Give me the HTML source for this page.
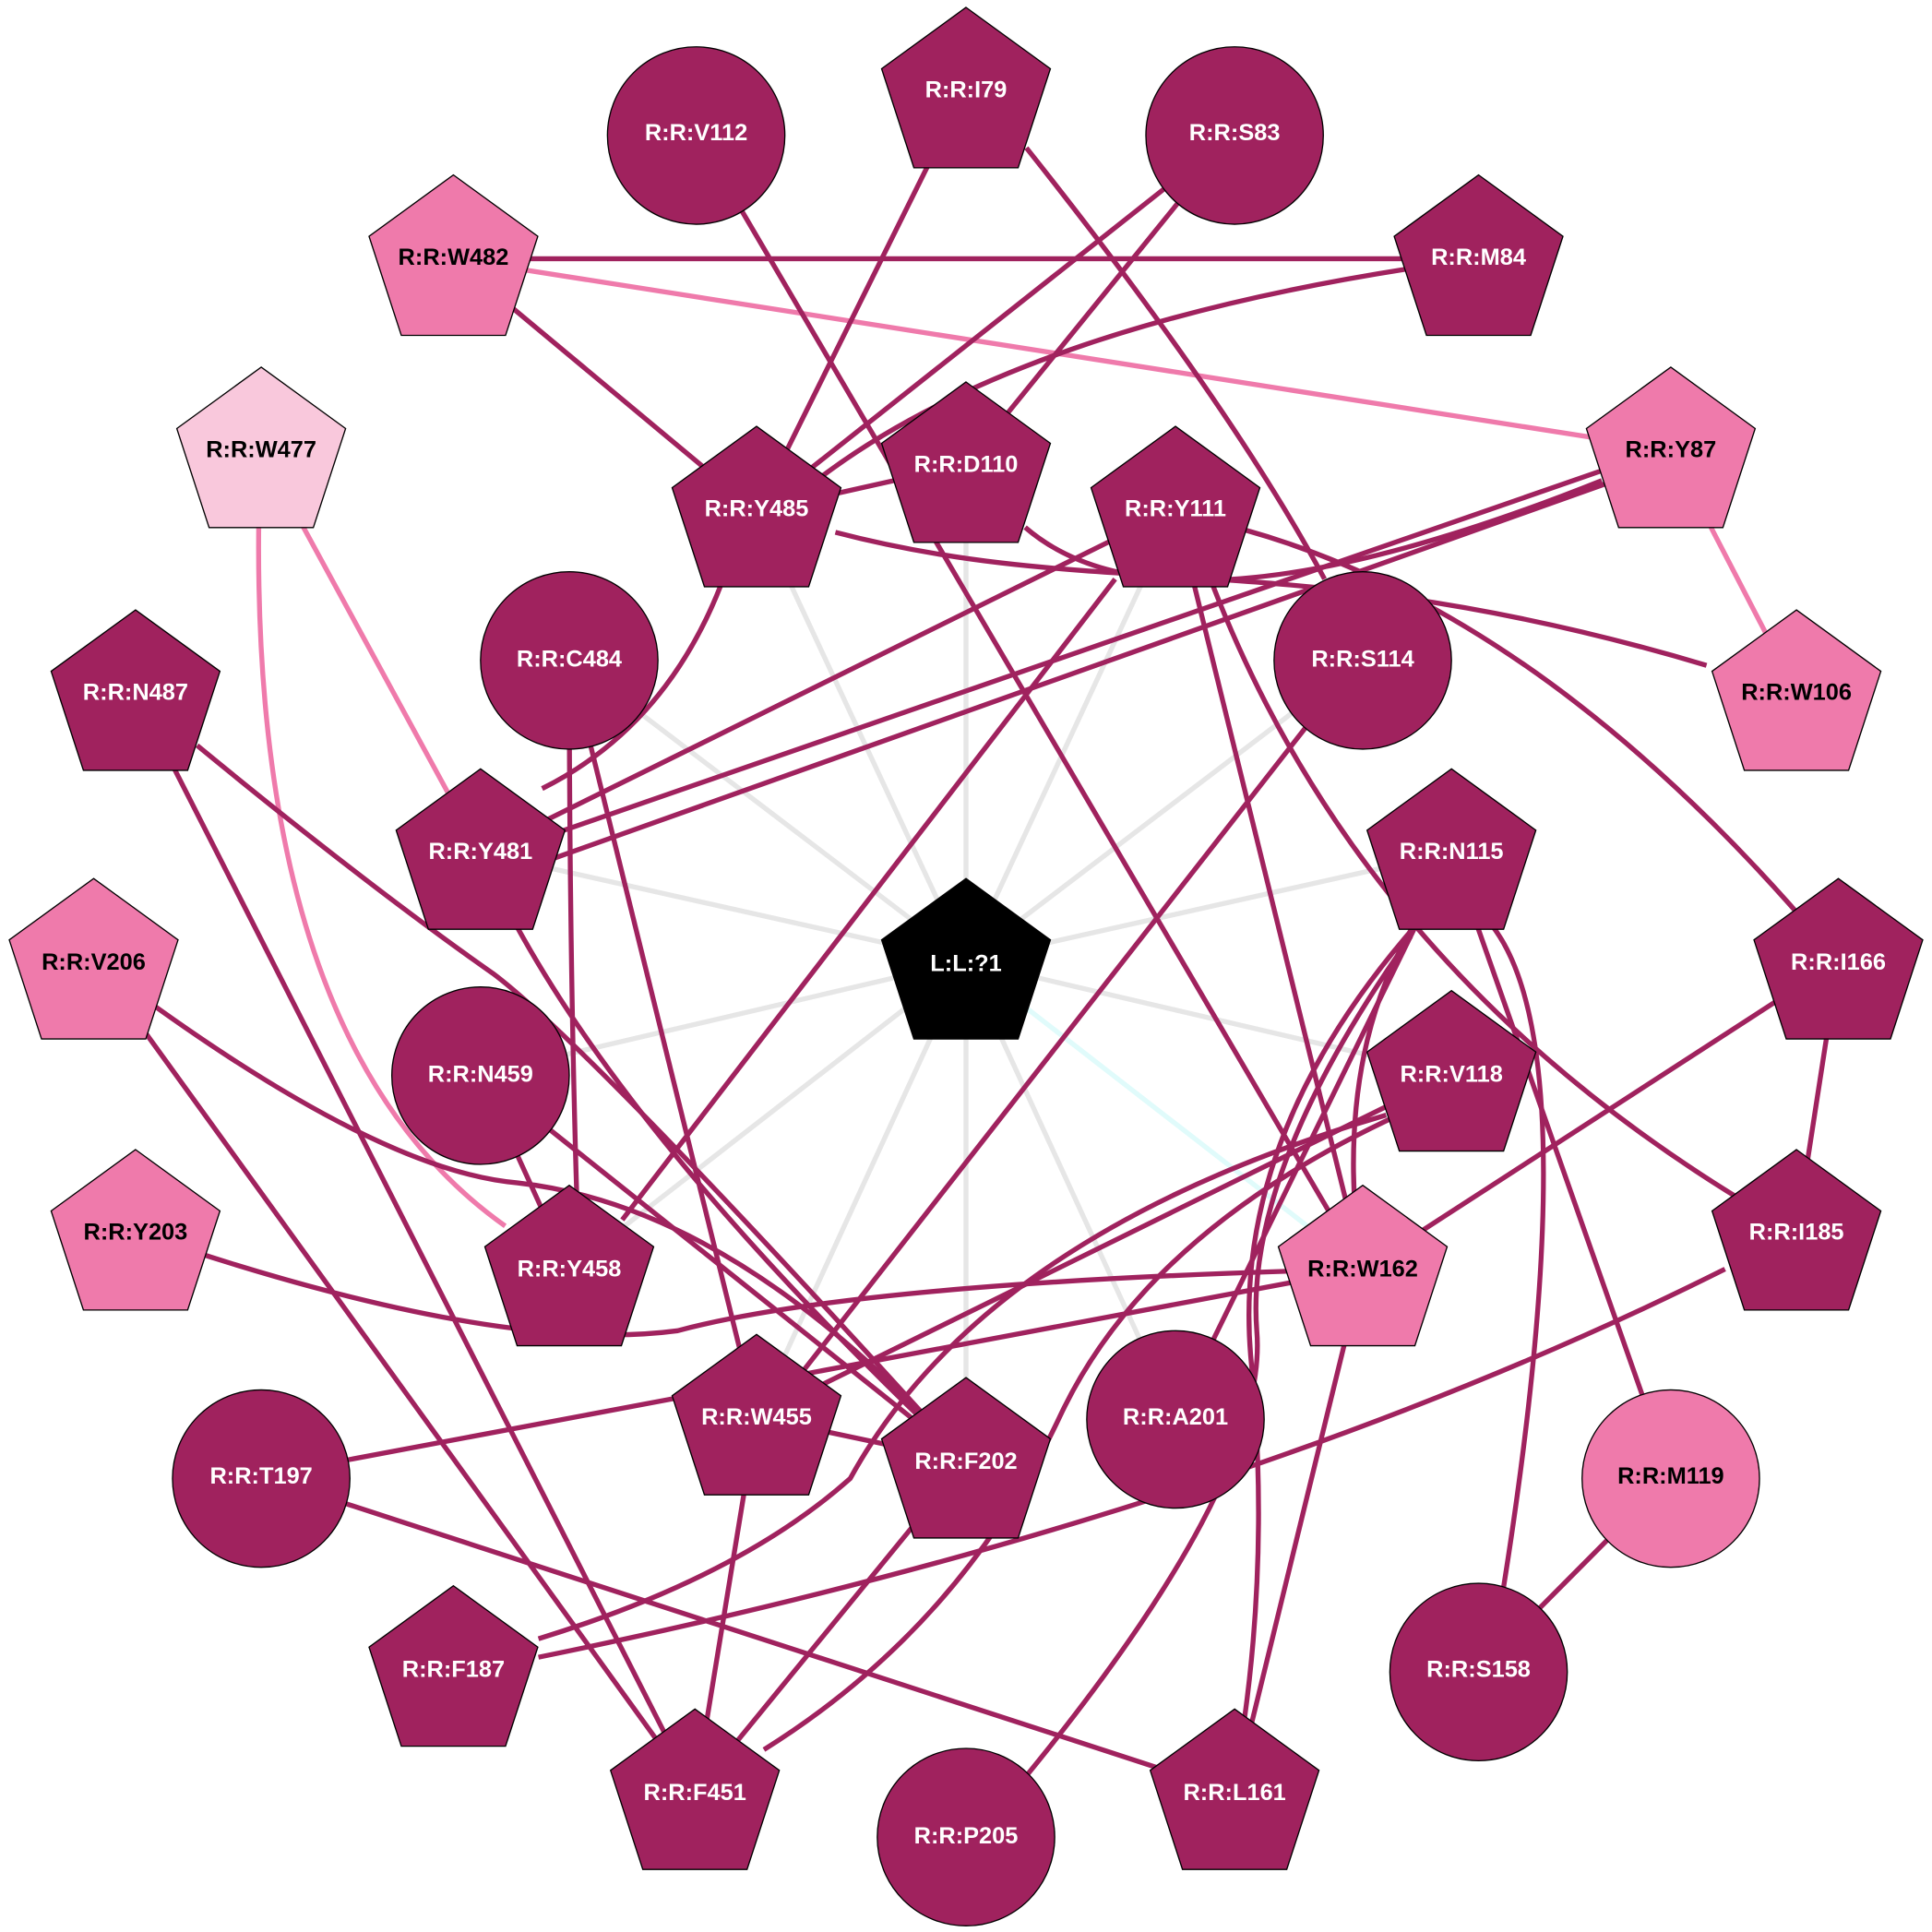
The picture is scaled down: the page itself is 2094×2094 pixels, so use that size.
<!DOCTYPE html>
<html><head><meta charset="utf-8"><style>
html,body{margin:0;padding:0;background:#fff;}
svg{display:block;}
text{font-family:"Liberation Sans",Arial,sans-serif;font-weight:bold;font-size:19px;text-anchor:middle;dominant-baseline:central;}
</style></head><body>
<svg width="2094" height="2094" viewBox="0 0 1568 1568" xmlns="http://www.w3.org/2000/svg">
<defs>
<polygon id="pg" points="0,-72 68.5,-22.2 42.3,58.2 -42.3,58.2 -68.5,-22.2"/>
</defs>
<g stroke="#e6e6e6" stroke-width="4" fill="none">
<line x1="784" y1="780" x2="784" y2="380"/>
<line x1="784" y1="780" x2="614" y2="415"/>
<line x1="784" y1="780" x2="954" y2="415"/>
<line x1="784" y1="780" x2="462" y2="535"/>
<line x1="784" y1="780" x2="1106" y2="535"/>
<line x1="784" y1="780" x2="390" y2="692"/>
<line x1="784" y1="780" x2="1178" y2="692"/>
<line x1="784" y1="780" x2="390" y2="872"/>
<line x1="784" y1="780" x2="1178" y2="872"/>
<line x1="784" y1="780" x2="462" y2="1030"/>
<line x1="784" y1="780" x2="614" y2="1150"/>
<line x1="784" y1="780" x2="954" y2="1150"/>
<line x1="784" y1="780" x2="784" y2="1186"/>
<line x1="784" y1="780" x2="1106" y2="1030" stroke="#e0fbfb"/>
</g>
<g stroke="#ef7aab" stroke-width="4" fill="none">
<line x1="368" y1="210" x2="1356" y2="365"/>
<line x1="1356" y1="365" x2="1458" y2="562"/>
<line x1="212" y1="365" x2="390" y2="692"/>
<path d="M210,425 Q205,850 410,995"/>
</g>
<g stroke="#a0225e" stroke-width="4" fill="none">
<line x1="368" y1="210" x2="1200" y2="210"/>
<line x1="368" y1="210" x2="614" y2="415"/>
<line x1="784" y1="72" x2="614" y2="415"/>
<path d="M833,120 Q1000,330 1075,470"/>
<line x1="1002" y1="108" x2="614" y2="415"/>
<line x1="1002" y1="108" x2="784" y2="377"/>
<path d="M1200,210 Q820,260 650,400"/>
<line x1="565" y1="108" x2="1106" y2="1030"/>
<line x1="1300" y1="382" x2="440" y2="680"/>
<line x1="1305" y1="392" x2="440" y2="700"/>
<path d="M678,432 C900,490 1050,440 1385,540"/>
<path d="M1010,430 Q1260,500 1492,780"/>
<path d="M832,428 Q950,530 1300,390"/>
<path d="M585,475 Q540,590 440,640"/>
<line x1="614" y1="415" x2="784" y2="377"/>
<line x1="954" y1="413" x2="390" y2="692"/>
<line x1="905" y1="470" x2="505" y2="990"/>
<line x1="954" y1="413" x2="1106" y2="1030"/>
<path d="M975,450 Q1100,800 1458,1000"/>
<line x1="1060" y1="590" x2="650" y2="1115"/>
<path d="M462,535 Q462,800 470,1030"/>
<line x1="462" y1="535" x2="614" y2="1150"/>
<line x1="110" y1="562" x2="564" y2="1455"/>
<path d="M160,605 Q300,720 400,790 Q480,850 784,1186"/>
<path d="M390,692 Q480,900 784,1186"/>
<line x1="390" y1="872" x2="784" y2="1186"/>
<line x1="390" y1="872" x2="462" y2="1030"/>
<line x1="76" y1="780" x2="564" y2="1455"/>
<path d="M76,780 Q300,950 420,960 Q600,980 784,1186"/>
<path d="M110,1000 Q400,1100 550,1080 Q700,1040 1106,1030"/>
<line x1="212" y1="1198" x2="1106" y2="1030"/>
<line x1="212" y1="1198" x2="1002" y2="1455"/>
<line x1="1178" y1="692" x2="954" y2="1150"/>
<path d="M1145,755 Q1090,850 1100,985"/>
<line x1="1178" y1="692" x2="1356" y2="1198"/>
<path d="M1210,750 Q1290,850 1220,1290"/>
<path d="M1145,760 Q1010,950 1020,1080 Q1030,1200 834,1440"/>
<path d="M1150,750 Q1000,920 1015,1100 Q1030,1250 1010,1395"/>
<line x1="1178" y1="872" x2="614" y2="1150"/>
<path d="M1135,905 Q930,1000 860,1150 Q780,1320 620,1420"/>
<path d="M1125,905 Q800,1000 690,1200 Q600,1280 437,1330"/>
<line x1="1492" y1="780" x2="1106" y2="1030"/>
<line x1="1492" y1="780" x2="1458" y2="1000"/>
<path d="M1400,1030 Q1000,1230 437,1345"/>
<line x1="1106" y1="1030" x2="1002" y2="1455"/>
<line x1="1356" y1="1198" x2="1200" y2="1355"/>
<line x1="614" y1="1150" x2="784" y2="1186"/>
<line x1="614" y1="1150" x2="564" y2="1455"/>
<line x1="784" y1="1186" x2="564" y2="1455"/>
</g>
<g stroke="#000" stroke-width="1">
<use href="#pg" x="784" y="78" fill="#a0225e"/>
<use href="#pg" x="784" y="785" fill="#000"/>
<circle cx="565" cy="110" r="72" fill="#a0225e"/>
<circle cx="1002" cy="110" r="72" fill="#a0225e"/>
<use href="#pg" x="368" y="214" fill="#ef7aab"/>
<use href="#pg" x="1200" y="214" fill="#a0225e"/>
<use href="#pg" x="212" y="370" fill="#f9c8dc"/>
<use href="#pg" x="1356" y="370" fill="#ef7aab"/>
<use href="#pg" x="784" y="382" fill="#a0225e"/>
<use href="#pg" x="614" y="418" fill="#a0225e"/>
<use href="#pg" x="954" y="418" fill="#a0225e"/>
<circle cx="462" cy="536" r="72" fill="#a0225e"/>
<circle cx="1106" cy="536" r="72" fill="#a0225e"/>
<use href="#pg" x="110" y="567" fill="#a0225e"/>
<use href="#pg" x="1458" y="567" fill="#ef7aab"/>
<use href="#pg" x="390" y="696" fill="#a0225e"/>
<use href="#pg" x="1178" y="696" fill="#a0225e"/>
<use href="#pg" x="76" y="785" fill="#ef7aab"/>
<use href="#pg" x="1492" y="785" fill="#a0225e"/>
<circle cx="390" cy="873" r="72" fill="#a0225e"/>
<use href="#pg" x="1178" y="876" fill="#a0225e"/>
<use href="#pg" x="110" y="1005" fill="#ef7aab"/>
<use href="#pg" x="1458" y="1005" fill="#a0225e"/>
<use href="#pg" x="462" y="1034" fill="#a0225e"/>
<use href="#pg" x="1106" y="1034" fill="#ef7aab"/>
<use href="#pg" x="614" y="1155" fill="#a0225e"/>
<circle cx="954" cy="1152" r="72" fill="#a0225e"/>
<use href="#pg" x="784" y="1190" fill="#a0225e"/>
<circle cx="212" cy="1200" r="72" fill="#a0225e"/>
<circle cx="1356" cy="1200" r="72" fill="#ef7aab"/>
<use href="#pg" x="368" y="1359" fill="#a0225e"/>
<circle cx="1200" cy="1357" r="72" fill="#a0225e"/>
<use href="#pg" x="564" y="1459" fill="#a0225e"/>
<use href="#pg" x="1002" y="1459" fill="#a0225e"/>
<circle cx="784" cy="1491" r="72" fill="#a0225e"/>
</g>
<g fill="#fff">
<text x="784" y="782">L:L:?1</text>
<text x="784" y="73">R:R:I79</text>
<text x="565" y="108">R:R:V112</text>
<text x="1002" y="108">R:R:S83</text>
<text x="1200" y="209">R:R:M84</text>
<text x="784" y="377">R:R:D110</text>
<text x="614" y="413">R:R:Y485</text>
<text x="954" y="413">R:R:Y111</text>
<text x="462" y="535">R:R:C484</text>
<text x="1106" y="535">R:R:S114</text>
<text x="110" y="562">R:R:N487</text>
<text x="390" y="691">R:R:Y481</text>
<text x="1178" y="691">R:R:N115</text>
<text x="1492" y="781">R:R:I166</text>
<text x="390" y="872">R:R:N459</text>
<text x="1178" y="872">R:R:V118</text>
<text x="1458" y="1000">R:R:I185</text>
<text x="462" y="1030">R:R:Y458</text>
<text x="614" y="1150">R:R:W455</text>
<text x="954" y="1150">R:R:A201</text>
<text x="784" y="1186">R:R:F202</text>
<text x="212" y="1198">R:R:T197</text>
<text x="368" y="1355">R:R:F187</text>
<text x="1200" y="1355">R:R:S158</text>
<text x="564" y="1455">R:R:F451</text>
<text x="1002" y="1455">R:R:L161</text>
<text x="784" y="1490">R:R:P205</text>
</g>
<g fill="#000">
<text x="368" y="209">R:R:W482</text>
<text x="212" y="365">R:R:W477</text>
<text x="1356" y="365">R:R:Y87</text>
<text x="1458" y="562">R:R:W106</text>
<text x="76" y="781">R:R:V206</text>
<text x="110" y="1000">R:R:Y203</text>
<text x="1106" y="1030">R:R:W162</text>
<text x="1356" y="1198">R:R:M119</text>
</g>
</svg>
</body></html>
